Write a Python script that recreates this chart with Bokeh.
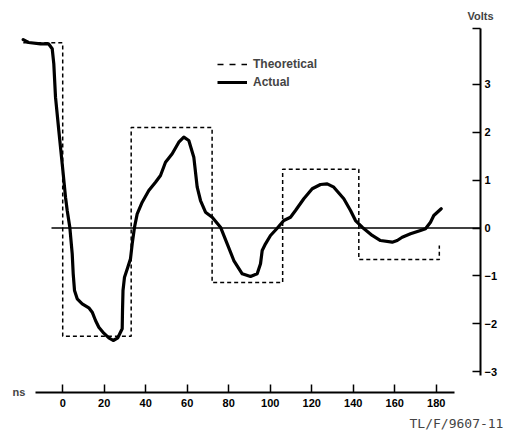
from bokeh.plotting import figure
from bokeh.models import Range1d, LinearAxis, FixedTicker, Legend, LegendItem, Label
from bokeh.embed import file_html
from bokeh.resources import INLINE

# ---- data (time in ns, voltage in V) ----
actual_t = [-19.04, -16.48, -10.70, -6.84, -5.06, -4.29, -3.47, -1.88, -0.24, 1.35,
            2.17, 3.42, 4.58, 5.06, 5.69, 6.99, 9.40, 12.58, 14.22, 15.81,
            17.40, 19.81, 22.22, 24.34, 26.55, 28.67, 28.82, 29.06, 29.78, 31.37,
            32.67, 33.49, 34.60, 35.90, 38.31, 41.49, 44.72, 47.13, 49.54, 52.77,
            55.95, 58.36, 60.77, 63.18, 64.82, 66.41, 68.82, 72.05, 76.05, 79.28,
            82.46, 86.51, 90.51, 93.73, 95.33, 96.14, 97.73, 100.14, 103.37, 106.55,
            109.78, 112.19, 116.19, 120.24, 124.24, 127.47, 130.65, 135.47, 138.70, 141.11,
            144.34, 149.16, 153.16, 158.80, 161.20, 163.61, 167.61, 172.43, 174.84, 177.25,
            178.84, 182.41]
actual_v = [3.938, 3.876, 3.849, 3.849, 3.745, 3.431, 2.734, 2.038, 1.342, 0.644,
            0.366, 0.017, -0.538, -0.956, -1.305, -1.479, -1.583, -1.667, -1.759, -1.932,
            -2.072, -2.197, -2.294, -2.350, -2.294, -2.106, -1.723, -1.305, -1.027, -0.818,
            -0.643, -0.330, 0.017, 0.297, 0.540, 0.784, 0.958, 1.098, 1.375, 1.551,
            1.793, 1.898, 1.829, 1.480, 0.853, 0.575, 0.331, 0.226, 0.017, -0.330,
            -0.679, -0.956, -1.013, -0.956, -0.747, -0.469, -0.330, -0.156, -0.004, 0.157,
            0.226, 0.366, 0.611, 0.820, 0.909, 0.924, 0.853, 0.611, 0.366, 0.157,
            0.017, -0.156, -0.261, -0.296, -0.261, -0.192, -0.121, -0.052, -0.016, 0.122,
            0.262, 0.402]

# theoretical step waveform: level boundaries and levels
step_edges = [-19.0, 0.0, 33.0, 72.0, 106.0, 142.7, 181.5]
step_levels = [3.87, -2.26, 2.10, -1.14, 1.23, -0.66]
step_end_value = -0.365

zero_line_t = [-5.4, 201.35]
zero_line_v = [0.0, 0.0]

x_ticks = [0, 20, 40, 60, 80, 100, 120, 140, 160, 180]
y_ticks = [-3, -2, -1, 0, 1, 2, 3]
y_axis_top = 4.17

# build the step path from the edges/levels
theo_t, theo_v = [], []
for i, lvl in enumerate(step_levels):
    theo_t += [step_edges[i], step_edges[i + 1]]
    theo_v += [lvl, lvl]
theo_t.append(step_edges[-1])
theo_v.append(step_end_value)

FONT = "Liberation Sans"
NAN = float("nan")

X_AXIS_AT = -3.436   # voltage where the time axis sits
Y_AXIS_AT = 201.35   # time where the volts axis sits

p = figure(width=513, height=436, output_backend="svg", toolbar_location=None,
           x_range=Range1d(-29.98, 217.25), y_range=Range1d(-4.356, 4.754),
           x_axis_location=None, y_axis_location=None,
           min_border_left=0, min_border_right=0, min_border_top=0, min_border_bottom=0)
p.outline_line_color = None
p.xgrid.visible = False
p.ygrid.visible = False
p.background_fill_color = "white"
p.border_fill_color = "white"

# zero reference line
p.line(zero_line_t, zero_line_v, line_color="black", line_width=1.3)

theo = p.line(theo_t, theo_v, line_color="black", line_width=1.5, line_dash="4 3")
act = p.line(actual_t, actual_v, line_color="black", line_width=3.2,
             line_join="round", line_cap="round")

# legend proxies (not drawn in the plot area)
theo_proxy = p.line([NAN], [NAN], line_color="black", line_width=1.5, line_dash="6 6")
act_proxy = p.line([NAN], [NAN], line_color="black", line_width=3)

legend = Legend(items=[LegendItem(label="Theoretical", renderers=[theo_proxy]),
                       LegendItem(label="Actual", renderers=[act_proxy])],
                location=(217, 345), orientation="vertical",
                glyph_width=30, glyph_height=18, label_height=18, label_standoff=6,
                padding=0, spacing=0, margin=0,
                border_line_color=None, background_fill_alpha=0,
                label_text_font=FONT, label_text_font_style="bold",
                label_text_font_size="12px")
p.add_layout(legend)

axis_style = dict(major_tick_out=0, minor_tick_in=0, minor_tick_out=0,
                  axis_line_width=2, major_tick_line_width=1.5,
                  major_label_text_font=FONT, major_label_text_font_style="bold",
                  major_label_text_font_size="11px", major_label_text_color="black")

yaxis = LinearAxis(ticker=FixedTicker(ticks=y_ticks + [y_axis_top]),
                   bounds=(-3.08, y_axis_top + 0.005), fixed_location=Y_AXIS_AT,
                   major_label_overrides={y_axis_top: ""},
                   major_tick_in=8, major_label_standoff=4, **axis_style)
p.add_layout(yaxis, "right")

xaxis = LinearAxis(ticker=FixedTicker(ticks=x_ticks), bounds=(-13.1, 188.8),
                   fixed_location=X_AXIS_AT,
                   major_tick_in=8, major_label_standoff=7, **axis_style)
p.add_layout(xaxis, "below")

p.add_layout(Label(x=Y_AXIS_AT, y=4.44, text="Volts", text_align="center",
                   text_baseline="middle", text_font=FONT, text_font_style="bold",
                   text_font_size="11px"))
p.add_layout(Label(x=-21.06, y=X_AXIS_AT, text="ns", text_align="center",
                   text_baseline="middle", text_font=FONT, text_font_style="bold",
                   text_font_size="11px"))
p.add_layout(Label(x=212.4, y=-4.084, text="TL/F/9607-11", text_align="right",
                   text_baseline="middle", text_font="DejaVu Sans Mono",
                   text_font_size="13px"))

open("out.html", "w").write(file_html(p, INLINE))
